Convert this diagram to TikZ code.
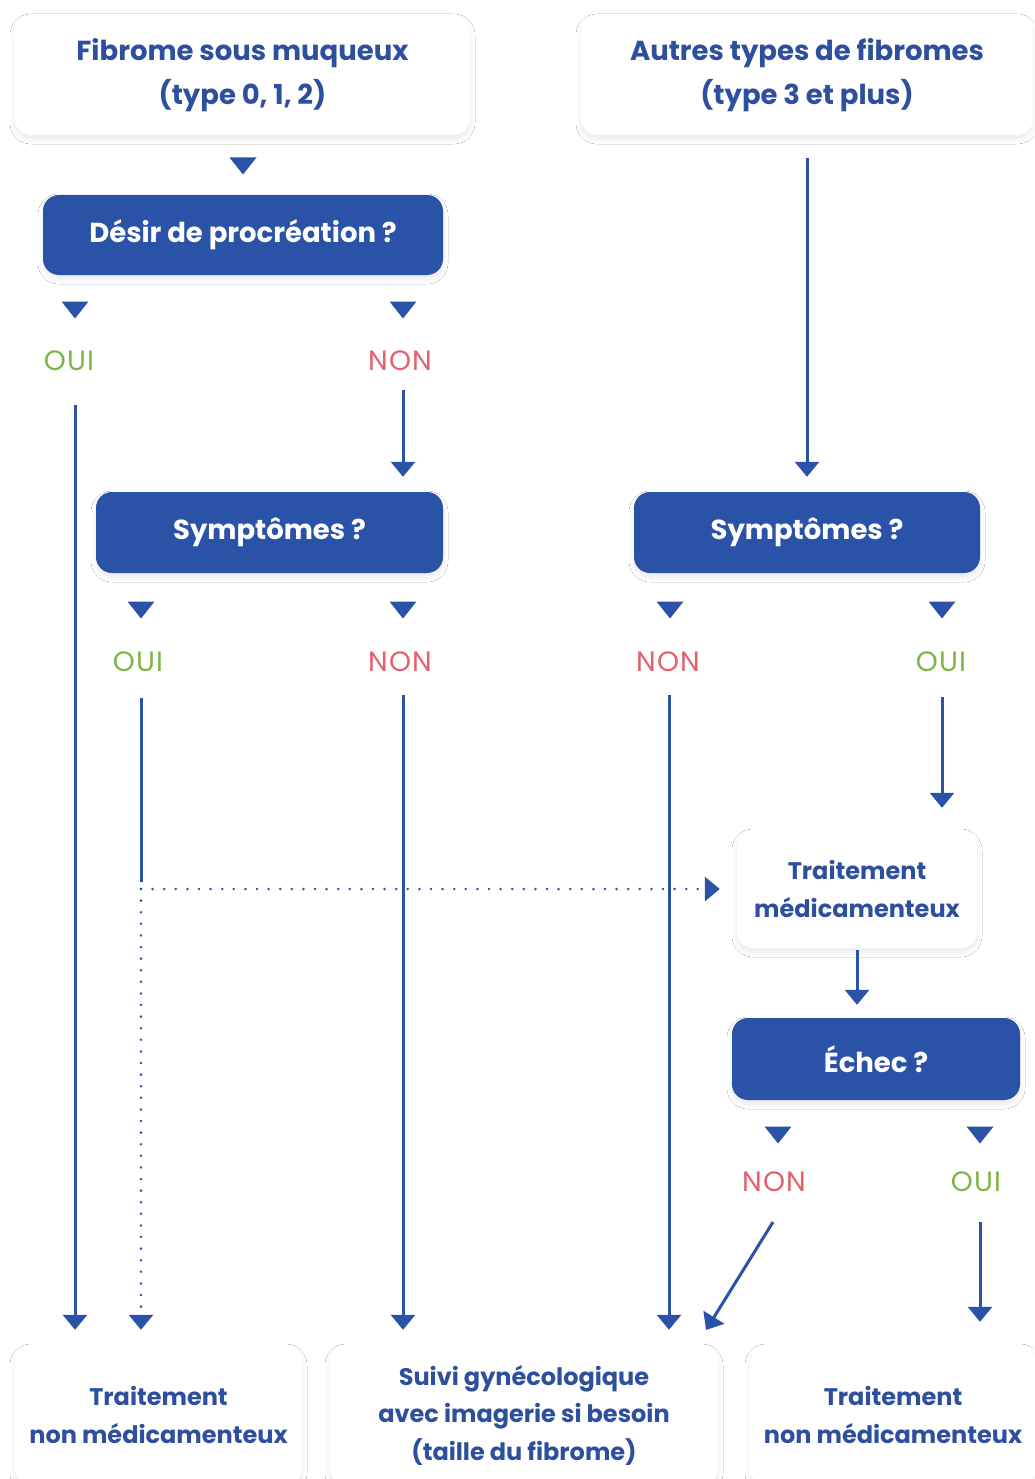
\documentclass[tikz,border=0pt]{standalone}
\usepackage{fontspec}
\setmainfont{Poppins}
\usetikzlibrary{arrows.meta,shadows.blur,calc}
\definecolor{nblue}{HTML}{2A52A6}
\definecolor{tblue}{HTML}{2E4F9E}
\definecolor{ngreen}{HTML}{7DB544}
\definecolor{nred}{HTML}{E5606B}
\tikzset{
  shad/.style={blur shadow={shadow xshift=0pt, shadow yshift=-4pt, shadow blur radius=5pt, shadow blur steps=8, shadow opacity=9}},
  wbox/.style={fill=white, rounded corners=16pt, shad,
    text=tblue, font=\bfseries\fontsize{27.5}{44}\selectfont, align=center, inner sep=0pt},
  wsmall/.style={wbox, font=\bfseries\fontsize{24}{37.5}\selectfont},
  bbox/.style={fill=nblue, rounded corners=16pt, shad,
    text=white, font=\bfseries\fontsize{27.5}{32}\selectfont, align=center, inner sep=0pt},
  yes/.style={text=ngreen, font=\fontsize{28}{30}\selectfont\addfontfeatures{LetterSpace=4}, inner sep=0pt},
  no/.style={text=nred, font=\fontsize{28}{30}\selectfont\addfontfeatures{LetterSpace=4}, inner sep=0pt},
  arr/.style={draw=nblue, line width=3pt, -{Triangle[length=15pt,width=24pt]}},
  solidl/.style={draw=nblue, line width=3pt},
  dotl/.style={draw=nblue, line width=2.8pt, line cap=round, dash pattern=on 0pt off 11.6pt,
    -{Triangle[length=15pt,width=24pt]}},
}
\newcommand\dtri[2]{\fill[nblue] ({#1-13.5},{#2-8.5}) -- ({#1+13.5},{#2-8.5}) -- ({#1},{#2+8.5}) -- cycle;}
\begin{document}
\begin{tikzpicture}[x=1pt,y=-1pt]
\useasboundingbox[fill=white] (0,0) rectangle (1034,1479);
% boxes
\node[wbox, minimum width=455pt, minimum height=120pt] (topA) at (242.5,75) {Fibrome sous muqueux\\(type 0, 1, 2)};
\node[wbox, minimum width=452pt, minimum height=120pt] (topB) at (807,75) {Autres types de fibromes\\(type 3 et plus)};
\node[bbox, minimum width=400pt, minimum height=80pt] (desir) at (243,235) {Désir de procréation ?};
\node[bbox, minimum width=347pt, minimum height=81pt] (sym1) at (269.5,532.5) {Symptômes ?};
\node[bbox, minimum width=346pt, minimum height=81pt] (sym2) at (807,532.5) {Symptômes ?};
\node[wsmall, minimum width=240pt, minimum height=118pt] (trt) at (857,889) {Traitement\\médicamenteux};
\node[bbox, minimum width=288pt, minimum height=82pt] (echec) at (876,1059) {Échec ?};
\node[wsmall, minimum width=287pt, minimum height=140pt] (botL) at (158.5,1415) {Traitement\\non médicamenteux};
\node[wsmall, minimum width=388pt, minimum height=140pt] (botM) at (524,1415) {Suivi gynécologique\\avec imagerie si besoin\\(taille du fibrome)};
\node[wsmall, minimum width=286pt, minimum height=140pt] (botR) at (893,1415) {Traitement\\non médicamenteux};
% labels
\node[yes] (oui1) at (69,361) {OUI};
\node[no]  (non1) at (400,361) {NON};
\node[yes] (oui2) at (138,662) {OUI};
\node[no]  (non2) at (400,662) {NON};
\node[no]  (non3) at (668,662) {NON};
\node[yes] (oui3) at (941,662) {OUI};
\node[no]  (non4) at (774,1182) {NON};
\node[yes] (oui4) at (976,1182) {OUI};
% small triangles
\dtri{243}{166}
\dtri{75}{310}
\dtri{403}{310}
\dtri{141}{610}
\dtri{403}{610}
\dtri{670}{610}
\dtri{942}{610}
\dtri{778}{1135}
\dtri{980}{1135}
% connector start points
\coordinate (s1) at (75,405);
\coordinate (s2) at (403,390);
\coordinate (s3) at (141,698);
\coordinate (j0) at (141,882);
\coordinate (jn) at (141,889);
\coordinate (s4) at (403,695);
\coordinate (s5) at (669,695);
\coordinate (s6) at (942,697);
\coordinate (s7) at (773,1222);
\coordinate (d7) at (706,1330);
\coordinate (s8) at (980,1222);
% connectors
\draw[arr, shorten >=15pt] (s1) -- (s1 |- botL.north);
\draw[arr, shorten >=15pt] (s2) -- (s2 |- sym1.north);
\draw[arr, shorten <=23pt, shorten >=15pt] (topB.south) -- (sym2.north);
\draw[solidl] (s3) -- (j0);
\draw[dotl, shorten >=15pt] (jn) -- (jn |- botL.north);
\draw[dotl, shorten >=17pt] (jn) -- (jn -| trt.west);
\draw[arr, shorten >=15pt] (s4) -- (s4 |- botM.north);
\draw[arr, shorten >=15pt] (s5) -- (s5 |- botM.north);
\draw[arr, shorten >=22pt] (s6) -- (s6 |- trt.north);
\draw[arr, shorten <=2pt, shorten >=13pt] (trt.south) -- (echec.north -| trt.south);
\draw[arr] (s7) -- (d7);
\draw[arr, shorten >=23pt] (s8) -- (s8 |- botR.north);
\end{tikzpicture}
\end{document}
